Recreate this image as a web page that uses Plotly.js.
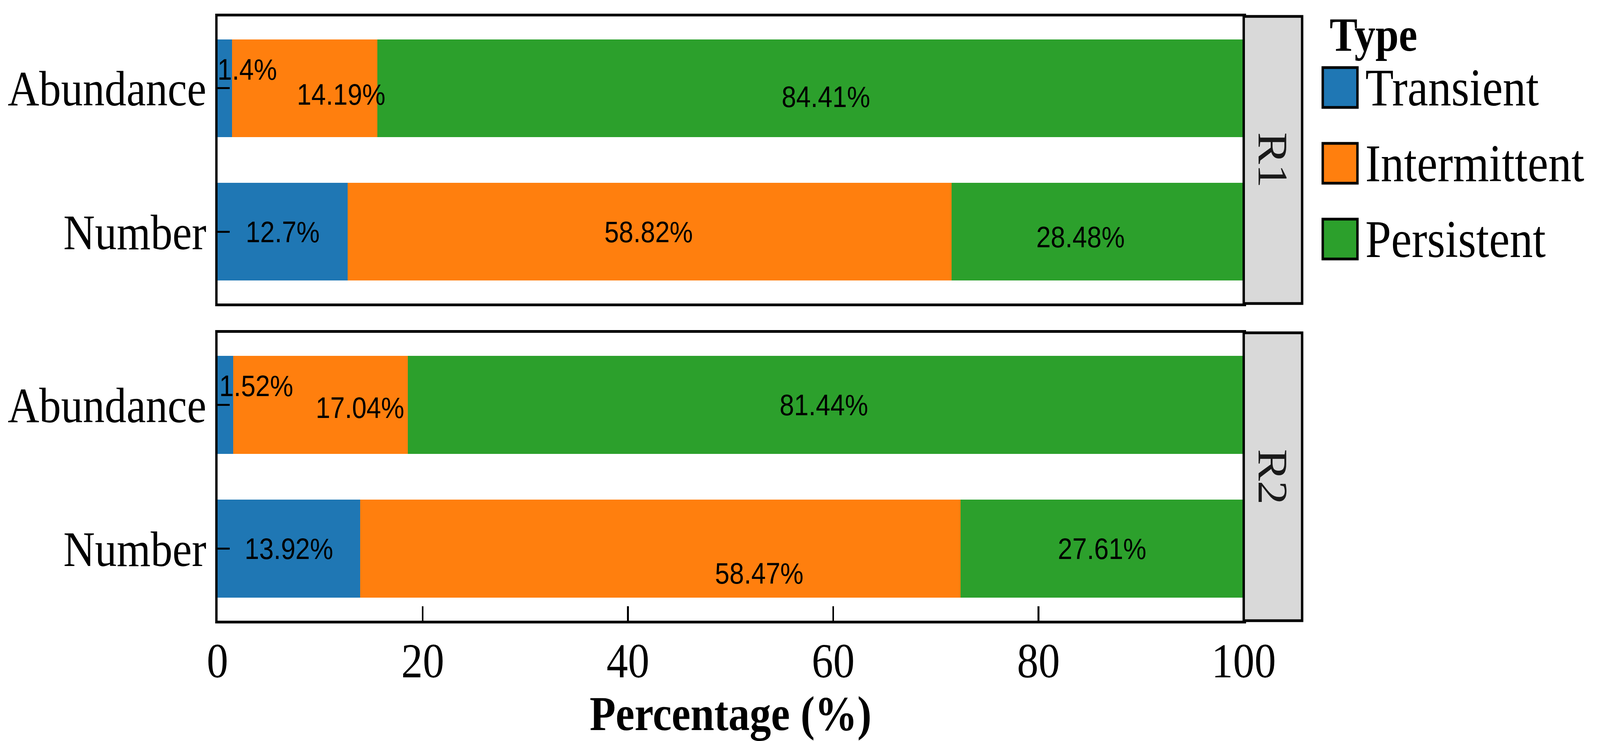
<!DOCTYPE html>
<html><head><meta charset="utf-8">
<script src="https://cdn.plot.ly/plotly-3.0.1.min.js"></script>
<style>html,body{margin:0;padding:0;background:#fff;overflow:hidden;}#wrap{width:4657px;height:1897px;transform-origin:0 0;}</style>
</head><body><div id="wrap"><div id="chart"></div></div>
<script>
// ---------------- data ----------------
const categories = ["Abundance", "Number"];
const panels = ["R1", "R2"];
const types = ["Transient", "Intermittent", "Persistent"];
const xTicks = [0, 20, 40, 60, 80, 100];

const r1Transient    = [1.4, 12.7];
const r1Intermittent = [14.19, 58.82];
const r1Persistent   = [84.41, 28.48];
const r2Transient    = [1.52, 13.92];
const r2Intermittent = [17.04, 58.47];
const r2Persistent   = [81.44, 27.61];

// label repel nudges (axis units): [per type][per category]
const r1NudgeX = [[2.18, 0], [3.56, -0.1], [1.5, -1.66]];
const r1NudgeY = [[0.13, 0], [-0.043, 0], [-0.06, -0.035]];
const r2NudgeX = [[3.01, 0], [3.86, 9.65], [-0.18, 0]];
const r2NudgeY = [[0.133, 0], [-0.02, -0.17], [0, 0]];

// ---------------- style ----------------
const colors = ["#1f77b4", "#ff7f0e", "#2ca02c"];
const SERIF = "Liberation Serif, Times New Roman, serif";
const SANS = "Liberation Sans, Arial, sans-serif";
const W = 4657, H = 1897;
const L = 633, R = 4657 - 3790, T = 42, B = 1897 - 1589;
const PW = W - L - R, PH = H - T - B;
const px2x = p => (p - L) / PW;
const py2y = p => 1 - (p - T) / PH;
const xd = px2x(3620);
const dom1 = [py2y(777), 1];
const dom2 = [0, py2y(852)];

const panelData = [
  {vals: [r1Transient, r1Intermittent, r1Persistent], nx: r1NudgeX, ny: r1NudgeY, xa: "x", ya: "y"},
  {vals: [r2Transient, r2Intermittent, r2Persistent], nx: r2NudgeX, ny: r2NudgeY, xa: "x2", ya: "y2"}
];

const traces = [];
const annotations = [];
panelData.forEach((pd, pi) => {
  const cum = categories.map(() => 0);
  pd.vals.forEach((v, ti) => {
    traces.push({
      type: "bar", orientation: "h", name: types[ti],
      y: categories, x: v, xaxis: pd.xa, yaxis: pd.ya,
      width: 0.68, marker: {color: colors[ti], line: {width: 0}},
      showlegend: false, hoverinfo: "skip"
    });
    v.forEach((val, ci) => {
      const cx = cum[ci] + val / 2 + pd.nx[ti][ci];
      const cy = ci - pd.ny[ti][ci];
      annotations.push({
        xref: pd.xa, yref: pd.ya, x: cx, y: cy, text: String(val) + "%",
        showarrow: false, xanchor: "center", yanchor: "middle",
        font: {family: SANS, size: 76, color: "#000"}
      });
      cum[ci] += val;
    });
  });
});

const shapes = [];
// strips
[[dom1, "R1"], [dom2, "R2"]].forEach(([d, lab]) => {
  shapes.push({type: "rect", xref: "paper", yref: "paper", x0: xd, x1: px2x(3790), y0: d[0], y1: d[1],
    fillcolor: "#d9d9d9", line: {color: "#000", width: 7}, layer: "above"});
  annotations.push({xref: "paper", yref: "paper", x: (xd + px2x(3790)) / 2, y: (d[0] + d[1]) / 2,
    text: lab, textangle: 90, showarrow: false, xanchor: "center", yanchor: "middle",
    font: {family: SERIF, size: 122, color: "#1a1a1a"}});
});

// legend (manual)
annotations.push({xref: "paper", yref: "paper", x: px2x(3868), y: py2y(88), text: "<b>Type</b>",
  showarrow: false, xanchor: "left", yanchor: "middle", font: {family: SERIF, size: 122, color: "#000"}});
const legCenters = [224, 418, 612];
types.forEach((t, i) => {
  const c = legCenters[i];
  shapes.push({type: "rect", xref: "paper", yref: "paper", x0: px2x(3850), x1: px2x(3951),
    y0: py2y(c + 51), y1: py2y(c - 51), fillcolor: colors[i], line: {color: "#000", width: 7}});
  annotations.push({xref: "paper", yref: "paper", x: px2x(3972), y: py2y(c), text: t,
    showarrow: false, xanchor: "left", yanchor: "middle", font: {family: SERIF, size: 135, color: "#000"}});
});

const yBase = {
  type: "category", range: [1.5, -0.5], ticks: "inside", ticklen: 35, tickwidth: 5, tickcolor: "#000",
  showline: true, mirror: true, linewidth: 7, linecolor: "#000", showgrid: false, zeroline: false,
  tickfont: {family: SERIF, size: 127, color: "#000"}, fixedrange: true
};
const xBase = {
  range: [0, 100], domain: [0, xd], showline: true, mirror: true, linewidth: 7, linecolor: "#000",
  showgrid: false, zeroline: false, fixedrange: true
};

const layout = {
  width: W, height: H, margin: {l: L, r: R, t: T, b: B, pad: 0},
  paper_bgcolor: "#fff", plot_bgcolor: "#fff", barmode: "stack", showlegend: false,
  xaxis: Object.assign({}, xBase, {anchor: "y", ticks: "", showticklabels: false}),
  yaxis: Object.assign({}, yBase, {domain: dom1, anchor: "x"}),
  xaxis2: Object.assign({}, xBase, {anchor: "y2", tickmode: "array", tickvals: xTicks,
    ticktext: xTicks.map(String), ticks: "inside", ticklen: 37, tickwidth: 5, tickcolor: "#000",
    ticklabelstandoff: -12,
    tickfont: {family: SERIF, size: 125, color: "#000"},
    title: {text: "<b>Percentage (%)</b>", font: {family: SERIF, size: 124, color: "#000"}, standoff: 34}}),
  yaxis2: Object.assign({}, yBase, {domain: dom2, anchor: "x2"}),
  shapes: shapes, annotations: annotations
};

Plotly.newPlot("chart", traces, layout, {staticPlot: true, displayModeBar: false});
// fit the 4657x1897 design into the actual viewport
const sx = Math.min(1, window.innerWidth / W), sy = Math.min(1, window.innerHeight / H);
document.getElementById("wrap").style.transform = "scale(" + sx + "," + sy + ")";
</script></body></html>
